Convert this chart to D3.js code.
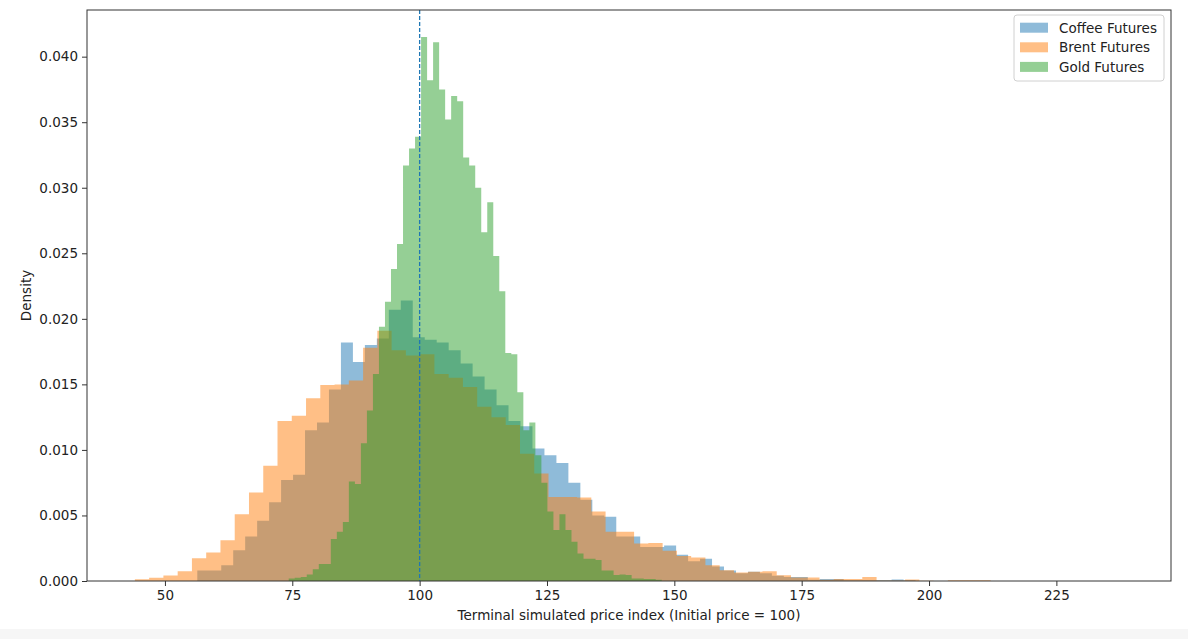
<!DOCTYPE html>
<html lang="en">
<head>
<meta charset="UTF-8">
<title>Terminal simulated price index</title>
<style>
  body { margin: 0; background: #fff; }
  svg text { font-family: "DejaVu Sans", sans-serif; fill: #222; }
</style>
</head>
<body>
<script src="https://d3js.org/d3.v7.min.js"></script>
<svg id="chart"></svg>
<script>
// histogram densities, 60 equal bins per series (gold has a slightly longer tail)
var coffeeStart = 56.35, coffeeWidth = 2.35;
var coffee = [0.0008, 0.0008, 0.0012, 0.00235, 0.0034, 0.0046, 0.006, 0.0077, 0.0081, 0.0115,
  0.0121, 0.0146, 0.0182, 0.0167, 0.018, 0.0185, 0.0207, 0.0214, 0.0186, 0.0184,
  0.0182, 0.0176, 0.0166, 0.0156, 0.0146, 0.0134, 0.0122, 0.0118, 0.0101, 0.0096,
  0.009, 0.0075, 0.0062, 0.005, 0.0049, 0.0034, 0.0034, 0.0026, 0.0026, 0.0027,
  0.002, 0.0015, 0.0017, 0.0011, 0.0008, 0.0006, 0.0007, 0.0006, 0.0004, 0.0003,
  0.0003, 0.0001, 0.00015, 0.00015, 0.00005, 0.00005, 0.00005, 0.00005, 0.00012, 0.00005];

var brentStart = 44.1, brentWidth = 2.8;
var brent = [0.00014, 0.00024, 0.00042, 0.00075, 0.00174, 0.00217, 0.00311, 0.0051, 0.00675, 0.0088,
  0.0122, 0.0126, 0.01395, 0.01495, 0.015, 0.0153, 0.0178, 0.0191, 0.0176, 0.0172,
  0.0173, 0.0158, 0.0155, 0.0148, 0.0133, 0.0125, 0.0119, 0.0097, 0.0082, 0.0064,
  0.0064, 0.00637, 0.0053, 0.00375, 0.00375, 0.00286, 0.0029, 0.0023, 0.0019, 0.0018,
  0.0012, 0.00082, 0.00065, 0.0007, 0.00075, 0.00044, 0.00027, 0.00027, 0.0001, 0.00015,
  0.00015, 0.00031, 0.00003, 0.00003, 0.00012, 0.00002, 0, 0.00006, 0.00006, 0.00006];

var goldStart = 74.3, goldWidth = 1.181;
var gold = [0.0002, 0.00025, 0.0003, 0.0005, 0.0009, 0.0013, 0.0013, 0.0032, 0.00375, 0.0045,
  0.0076, 0.0074, 0.0105, 0.013, 0.0158, 0.0194, 0.0213, 0.0238, 0.0257, 0.0317,
  0.033, 0.0339, 0.0415, 0.0382, 0.0411, 0.0375, 0.0352, 0.037, 0.0366, 0.0323,
  0.0317, 0.03, 0.0266, 0.0289, 0.0248, 0.0221, 0.0174, 0.0173, 0.0144, 0.0115,
  0.0121, 0.0096, 0.0075, 0.0053, 0.0039, 0.0051, 0.0039, 0.003, 0.0021, 0.0017,
  0.0017, 0.0016, 0.0008, 0.0008, 0.00045, 0.0005, 0.00045, 0.0002, 0.0002, 0.00015,
  0.00015, 0.0001];

var seriesNames = ["Coffee Futures", "Brent Futures", "Gold Futures"];
var seriesColors = ["#1f77b4", "#ff7f0e", "#2ca02c"];
var xTicks = [50, 75, 100, 125, 150, 175, 200, 225];
var yTicks = [0, 0.005, 0.01, 0.015, 0.02, 0.025, 0.03, 0.035, 0.04];
var initialPrice = 100;

var W = 1188, H = 639;
var margin = { left: 87, top: 10, right: 17, bottom: 58 };
var iw = W - margin.left - margin.right,
    ih = H - margin.top - margin.bottom;

var svg = d3.select("#chart").attr("width", W).attr("height", H);

// faint strip at the very bottom of the reference image
svg.append("rect")
  .attr("x", 0).attr("y", 629).attr("width", W).attr("height", H - 629)
  .attr("fill", "#f6f6f6");

var x = d3.scaleLinear().domain([34.7, 247.5]).range([0, iw]);
var y = d3.scaleLinear().domain([0, 0.04356]).range([ih, 0]);

var g = svg.append("g").attr("transform", "translate(" + margin.left + "," + margin.top + ")");

// step outline of a histogram: two points per bin
function stepPoints(vals, start, width) {
  var pts = [];
  vals.forEach(function (v, i) {
    pts.push({ x: start + i * width, v: v });
    pts.push({ x: start + (i + 1) * width, v: v });
  });
  return pts;
}

var area = d3.area()
  .x(function (d) { return x(d.x); })
  .y0(ih)
  .y1(function (d) { return y(d.v); });

var series = [
  stepPoints(coffee, coffeeStart, coffeeWidth),
  stepPoints(brent, brentStart, brentWidth),
  stepPoints(gold, goldStart, goldWidth)
];

series.forEach(function (pts, si) {
  g.append("path")
    .datum(pts)
    .attr("d", area)
    .attr("fill", seriesColors[si])
    .attr("fill-opacity", 0.5);
});

// reference line at initial price
g.append("line")
  .attr("x1", x(initialPrice)).attr("x2", x(initialPrice))
  .attr("y1", 0).attr("y2", ih)
  .attr("stroke", "#1f77b4")
  .attr("stroke-width", 1.3)
  .attr("stroke-dasharray", "4,2");

// axes
var xAxis = g.append("g")
  .attr("transform", "translate(0," + ih + ")")
  .call(d3.axisBottom(x).tickValues(xTicks).tickSize(5).tickPadding(4).tickFormat(d3.format("d")));
var yAxis = g.append("g")
  .call(d3.axisLeft(y).tickValues(yTicks).tickSize(5).tickPadding(4).tickFormat(d3.format(".3f")));

[xAxis, yAxis].forEach(function (ax) {
  ax.select(".domain").remove();
  ax.selectAll(".tick line").attr("stroke", "#333");
  ax.selectAll("text").style("font-size", "13.5px").attr("fill", "#222");
});

// frame
g.append("rect")
  .attr("width", iw).attr("height", ih)
  .attr("fill", "none").attr("stroke", "#333").attr("stroke-width", 1);

svg.append("text")
  .attr("x", margin.left + iw / 2).attr("y", 620)
  .attr("text-anchor", "middle")
  .style("font-size", "13.5px")
  .text("Terminal simulated price index (Initial price = 100)");

svg.append("text")
  .attr("transform", "translate(31," + (margin.top + ih / 2) + ") rotate(-90)")
  .attr("text-anchor", "middle")
  .style("font-size", "13.5px")
  .text("Density");

// legend
var lg = svg.append("g").attr("transform", "translate(1014,15)");
lg.append("rect")
  .attr("width", 150).attr("height", 66).attr("rx", 3)
  .attr("fill", "#fff").attr("fill-opacity", 0.8)
  .attr("stroke", "#d0d0d0");
seriesNames.forEach(function (name, i) {
  var row = lg.append("g").attr("transform", "translate(0," + (12.7 + i * 19.6) + ")");
  row.append("rect")
    .attr("x", 6).attr("y", -5).attr("width", 28).attr("height", 10)
    .attr("fill", seriesColors[i]).attr("fill-opacity", 0.5);
  row.append("text")
    .attr("x", 45).attr("y", 5)
    .style("font-size", "13.5px")
    .text(name);
});
</script>
</body>
</html>
